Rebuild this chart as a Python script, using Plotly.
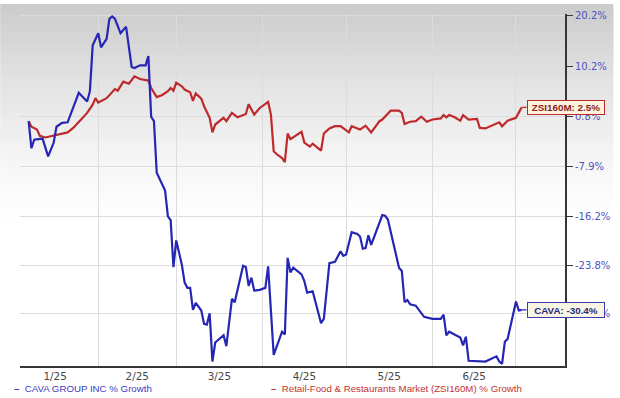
import numpy as np
import pandas as pd
import plotly.graph_objects as go

# ---------------- data ----------------
cava_dates = [
    "2025-01-07", "2025-01-08", "2025-01-09", "2025-01-12", "2025-01-14", "2025-01-16", "2025-01-17",
    "2025-01-19", "2025-01-21", "2025-01-24", "2025-01-25", "2025-01-28", "2025-01-29", "2025-01-30",
    "2025-02-01", "2025-02-02", "2025-02-03", "2025-02-04", "2025-02-05", "2025-02-06", "2025-02-07",
    "2025-02-09", "2025-02-11", "2025-02-13", "2025-02-14", "2025-02-16", "2025-02-18", "2025-02-19",
    "2025-02-20", "2025-02-21", "2025-02-22", "2025-02-24", "2025-02-25", "2025-02-26", "2025-02-27",
    "2025-02-28",
    "2025-03-01", "2025-03-03", "2025-03-04", "2025-03-05", "2025-03-06", "2025-03-07", "2025-03-08",
    "2025-03-10", "2025-03-11", "2025-03-12", "2025-03-13", "2025-03-14", "2025-03-15", "2025-03-18",
    "2025-03-19", "2025-03-21", "2025-03-22", "2025-03-25", "2025-03-26", "2025-03-27", "2025-03-28",
    "2025-03-29", "2025-03-31",
    "2025-04-02", "2025-04-03", "2025-04-05", "2025-04-08", "2025-04-09", "2025-04-10", "2025-04-11",
    "2025-04-12", "2025-04-15", "2025-04-16", "2025-04-17", "2025-04-19", "2025-04-22", "2025-04-23",
    "2025-04-25", "2025-04-27", "2025-04-29", "2025-04-30",
    "2025-05-01", "2025-05-03", "2025-05-05", "2025-05-06", "2025-05-07", "2025-05-08", "2025-05-09",
    "2025-05-10", "2025-05-14", "2025-05-15", "2025-05-16", "2025-05-20", "2025-05-21", "2025-05-22",
    "2025-05-23", "2025-05-24", "2025-05-26", "2025-05-28", "2025-05-29",
    "2025-06-01", "2025-06-04", "2025-06-05", "2025-06-06", "2025-06-07", "2025-06-10", "2025-06-11",
    "2025-06-12", "2025-06-13", "2025-06-14", "2025-06-16", "2025-06-18", "2025-06-20", "2025-06-24",
    "2025-06-25", "2025-06-26", "2025-06-27", "2025-06-28",
    "2025-07-01", "2025-07-02", "2025-07-03",
]
cava_growth = [
    0.0, -4.8, -3.3, -3.1, -6.2, -3.8, -1.0, -0.3, -0.2, 3.9, 5.2, 3.6, 5.5, 14.3,
    16.7, 13.9, 14.8, 15.6, 19.6, 20.1, 19.6, 16.7, 18.0, 10.1, 9.9, 10.4, 10.4, 12.2,
    0.8, 0.0, -9.0, -10.9, -12.0, -16.2, -16.8, -24.1,
    -20.0, -23.7, -26.4, -27.2, -27.2, -30.4, -29.4, -30.5, -32.4, -32.5, -30.9, -37.6,
    -35.0, -34.0, -35.5, -28.8, -29.3, -23.9, -24.1, -26.9, -25.7, -27.6, -27.5,
    -27.2, -24.0, -36.7, -33.5, -33.9, -22.7, -24.9, -24.2, -25.2, -26.2, -27.9, -27.7,
    -32.3, -31.7, -23.5, -23.3, -21.7, -22.4,
    -22.2, -18.7, -19.0, -19.4, -21.3, -21.2, -19.2, -20.7, -16.0, -16.1, -16.7, -24.2,
    -24.7, -29.3, -29.0, -29.6, -29.8, -30.9, -31.4,
    -31.7, -31.7, -31.1, -34.0, -33.5, -34.1, -34.3, -35.4, -34.2, -37.5, -37.5, -37.5,
    -37.6, -36.9, -37.6, -37.9, -34.9, -34.5,
    -29.2, -30.5, -30.4,
]

zsi_dates = [
    "2025-01-07", "2025-01-08", "2025-01-10", "2025-01-11", "2025-01-13", "2025-01-16", "2025-01-18",
    "2025-01-21", "2025-01-23", "2025-01-24", "2025-01-26", "2025-01-28", "2025-01-30", "2025-01-31",
    "2025-02-01", "2025-02-04", "2025-02-06", "2025-02-07", "2025-02-08", "2025-02-10", "2025-02-12",
    "2025-02-14", "2025-02-16", "2025-02-19", "2025-02-20", "2025-02-22", "2025-02-24", "2025-02-26",
    "2025-02-27", "2025-02-28",
    "2025-03-01", "2025-03-03", "2025-03-04", "2025-03-06", "2025-03-07", "2025-03-08", "2025-03-10",
    "2025-03-11", "2025-03-13", "2025-03-14", "2025-03-15", "2025-03-17", "2025-03-18", "2025-03-19",
    "2025-03-21", "2025-03-23", "2025-03-25", "2025-03-26", "2025-03-27", "2025-03-29", "2025-03-31",
    "2025-04-03", "2025-04-04", "2025-04-05", "2025-04-06", "2025-04-08", "2025-04-09", "2025-04-10",
    "2025-04-11", "2025-04-15", "2025-04-16", "2025-04-18", "2025-04-19", "2025-04-22", "2025-04-23",
    "2025-04-25", "2025-04-27", "2025-04-29",
    "2025-05-02", "2025-05-03", "2025-05-06", "2025-05-08", "2025-05-10", "2025-05-13", "2025-05-14",
    "2025-05-17", "2025-05-20", "2025-05-21", "2025-05-22", "2025-05-24", "2025-05-26", "2025-05-28",
    "2025-05-30",
    "2025-06-01", "2025-06-04", "2025-06-05", "2025-06-06", "2025-06-07", "2025-06-09", "2025-06-11",
    "2025-06-12", "2025-06-14", "2025-06-17", "2025-06-18", "2025-06-20", "2025-06-25", "2025-06-26",
    "2025-06-28",
    "2025-07-01", "2025-07-03",
]
zsi_growth = [
    0.0, -1.0, -1.5, -2.6, -2.9, -2.6, -2.3, -2.0, -1.2, -0.6, 0.4, 1.5, 3.0, 4.2,
    3.4, 4.2, 5.3, 5.9, 5.6, 7.3, 6.9, 8.3, 7.8, 7.5, 6.1, 4.4, 4.8, 5.5, 6.1, 5.6,
    7.1, 6.4, 5.8, 5.3, 3.7, 5.1, 4.1, 2.7, 0.6, -2.0, -0.6, 0.3, 0.6, 0.0, 1.5, 0.7,
    1.2, 1.3, 3.1, 1.2, 2.4,
    3.5, 1.2, -5.3, -5.8, -6.5, -7.2, -2.2, -3.2, -1.9, -3.8, -4.5, -4.0, -5.2, -2.2,
    -1.3, -0.9, -0.9,
    -2.0, -0.9, -1.5, -0.8, -2.0, 0.0, 0.3, 1.9, 1.9, 1.5, -0.5, -0.1, 0.0, 0.8, -0.1,
    0.3, 0.5, 1.1, 0.7, 1.1, 0.7, 0.1, 1.1, 0.3, 0.4, -1.2, -1.3, -0.2, -0.9, 0.1,
    0.6, 2.5,
]

y_tick_values = [20.2, 10.2, 0.8, -7.9, -16.2, -23.8, -30.9]
y_tick_labels = ["20.2%", "10.2%", "0.8%", "-7.9%", "-16.2%", "-23.8%", "-30.9%"]

month_starts = ["2025-01-01", "2025-02-01", "2025-03-01", "2025-04-01",
                "2025-05-01", "2025-06-01", "2025-07-01"]
month_labels = ["1/25", "2/25", "3/25", "4/25", "5/25", "6/25"]

cava_name = "CAVA GROUP INC % Growth"
zsi_name = "Retail-Food & Restaurants Market (ZSI160M) % Growth"

# ---------------- styling ----------------
BLUE = "#2626b4"
RED = "#be2a2c"
GRID = "#dcdcdc"
AXIS = "#363636"
YLAB = "#5151c0"
XLAB = "#474747"

W, H = 620, 398
M = dict(l=20, r=49, t=10, b=32)
plot_w = W - M["l"] - M["r"]
plot_h = H - M["t"] - M["b"]

# The source's growth scale is compressive: ticks are evenly spaced.
# A log axis of (1.5 + growth) reproduces that spacing.
OFFSET = 1.5


def to_axis(pct):
    return OFFSET + np.asarray(pct, dtype=float) / 100.0


Y_TOP, Y_BOTTOM = 20.6, -38.2

fig = go.Figure()
fig.add_trace(go.Scatter(
    x=pd.to_datetime(zsi_dates), y=to_axis(zsi_growth), mode="lines",
    name=zsi_name, line=dict(color=RED, width=2.2), showlegend=False, hoverinfo="skip"))
fig.add_trace(go.Scatter(
    x=pd.to_datetime(cava_dates), y=to_axis(cava_growth), mode="lines",
    name=cava_name, line=dict(color=BLUE, width=2.2), showlegend=False, hoverinfo="skip"))

# gray-to-white vertical gradient background (top part of the figure)
shapes = []
band = 5
fade = 230
for i in range(fade // band):
    py0 = i * band
    py1 = py0 + band + 0.6
    c = int(round(255 - 52 * (1 - (py0 + band / 2) / fade) ** 1.4))
    shapes.append(dict(
        type="rect", xref="paper", yref="paper", layer="below",
        x0=-M["l"] / plot_w, x1=(W - M["l"]) / plot_w,
        y0=(H - M["b"] - py1) / plot_h, y1=(H - M["b"] - py0) / plot_h,
        fillcolor=f"rgb({c},{c},{c})", line=dict(width=0)))

starts = pd.to_datetime(month_starts)
label_dates = starts[:-1] + (starts[1:] - starts[:-1]) / 2

x_left = pd.Timestamp("2025-01-01") + pd.Timedelta(days=2.9)
x_right = pd.Timestamp("2025-01-01") + pd.Timedelta(days=198.6)

annotations = [
    # legend
    dict(xref="paper", yref="paper", x=-8 / plot_w, y=(H - M["b"] - 388.7) / plot_h,
         xanchor="left", yanchor="middle", showarrow=False,
         text="<b>\u2013</b>\u00a0\u00a0" + cava_name,
         font=dict(family="Liberation Sans", size=9.7, color="#3a3abf")),
    dict(xref="paper", yref="paper", x=(272 - M["l"]) / plot_w, y=(H - M["b"] - 388.7) / plot_h,
         xanchor="left", yanchor="middle", showarrow=False,
         text="<b>\u2013</b>\u00a0\u00a0" + zsi_name.replace("&", "&amp;"),
         font=dict(family="Liberation Sans", size=9.7, color="#c13232")),
    # end-value callouts
    dict(x=pd.Timestamp(zsi_dates[-1]), y=float(np.log10(to_axis(zsi_growth[-1]))),
         xref="x", yref="y", showarrow=True, arrowhead=0, arrowwidth=1.2, arrowcolor=RED,
         ax=5, ay=0, xanchor="left", yanchor="middle",
         text=f"<b>ZSI160M: {zsi_growth[-1]}%</b>",
         font=dict(family="Liberation Sans", size=9.8, color="#8c1d1d"),
         bgcolor="#fdf3dc", bordercolor=RED, borderwidth=1, borderpad=1,
         width=74, height=11),
    dict(x=pd.Timestamp(cava_dates[-1]), y=float(np.log10(to_axis(cava_growth[-1]))),
         xref="x", yref="y", showarrow=True, arrowhead=0, arrowwidth=1.2, arrowcolor=BLUE,
         ax=5, ay=0, xanchor="left", yanchor="middle",
         text=f"<b>CAVA: {cava_growth[-1]}%</b>",
         font=dict(family="Liberation Sans", size=9.8, color="#2b2b7c"),
         bgcolor="#f7f5e4", bordercolor="#3c3cae", borderwidth=1, borderpad=1,
         width=74, height=12),
]

fig.update_layout(
    width=W, height=H, margin=M,
    paper_bgcolor="white", plot_bgcolor="rgba(0,0,0,0)",
    shapes=shapes, annotations=annotations, showlegend=False,
    xaxis=dict(
        type="date", range=[x_left, x_right],
        tickmode="array", tickvals=label_dates, ticktext=month_labels,
        ticks="", showgrid=False, zeroline=False,
        showline=True, linecolor=AXIS, linewidth=2,
        tickfont=dict(family="DejaVu Sans", size=10.4, color=XLAB),
        minor=dict(tickmode="array", tickvals=starts, showgrid=True,
                   gridcolor=GRID, gridwidth=1, ticks=""),
    ),
    yaxis=dict(
        type="log", side="right",
        range=[float(np.log10(to_axis(Y_BOTTOM))), float(np.log10(to_axis(Y_TOP)))],
        tickmode="array", tickvals=to_axis(y_tick_values), ticktext=y_tick_labels,
        ticks="outside", ticklen=6, tickwidth=1, tickcolor=AXIS,
        showline=True, linecolor=AXIS, linewidth=2,
        showgrid=True, gridcolor=GRID, gridwidth=1, zeroline=False,
        tickfont=dict(family="DejaVu Sans", size=10, color=YLAB),
    ),
)

fig.write_html(
    "out.html",
    config={"displayModeBar": False},
    post_script="document.body.style.margin='0';document.body.style.padding='0';"
                "document.body.style.overflow='hidden';",
)
